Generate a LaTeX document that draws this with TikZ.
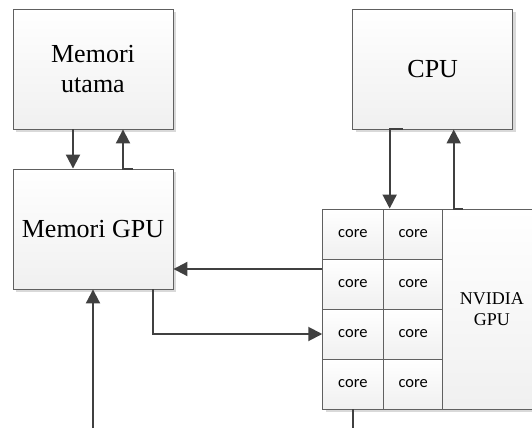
\documentclass[tikz,border=0pt]{standalone}
\usepackage{fontspec}
\setmainfont{Liberation Serif}
\newfontfamily\corefont{Carlito}
\usetikzlibrary{arrows.meta,shadows}

\tikzset{
  blok/.style={draw=gray!75!black, line width=0.9pt, top color=white, bottom color=gray!12,
    drop shadow={shadow xshift=3pt, shadow yshift=-3pt, fill=gray!30, opacity=1},
    minimum width=160pt, minimum height=120pt, inner sep=0pt, align=center,
    font=\fontsize{26}{30}\selectfont},
  inti/.style={draw=gray!75!black, line width=0.9pt, top color=white, bottom color=gray!12,
    minimum width=60.3pt, minimum height=50pt, inner sep=0pt,
    font=\corefont\fontsize{16.5}{18}\selectfont},
  jalur/.style={draw=black!75, line width=2pt},
  panah/.style={jalur, -{Triangle[length=14pt,width=14pt]}}
}

\begin{document}
\begin{tikzpicture}[x=1pt, y=-1pt]
    \useasboundingbox (0,0) rectangle (532,428);

    \node[blok] (mem) at (93, 69) {Memori\\utama};
    \node[blok] (gmem) at (93, 229) {Memori GPU};
    \node[blok] (cpu) at (432.7, 69) {CPU};

    % GPU: shadow first, then 4x2 cores and the big block
    \fill[gray!30] (325.7, 212) rectangle (545, 412);
    \foreach \r in {1,...,4} \foreach \c in {1,2}
        \node[inti] (c-\r-\c) at ({322.7 + 60.3*\c - 30.15}, {184 + 50*\r}) {core};
    \node[inti, minimum width=98.3pt, minimum height=200pt, font=\fontsize{18}{21}\selectfont, align=center]
        (gpu) at (491.85, 309) {NVIDIA\\GPU};

    \draw[panah] ([xshift=-20pt]mem.south) -- ([xshift=-20pt]gmem.north);
    \draw[panah] ([xshift=40pt]gmem.north) -| ([xshift=30pt]mem.south);
    \draw[panah] ([xshift=-30pt]cpu.south) -| ([xshift=-23.5pt]c-1-2.north);
    \draw[panah] ([xshift=-29pt]gpu.north) -| ([xshift=21pt]cpu.south);

    \coordinate (balik) at ([yshift=15pt]c-2-1.west);
    \draw[panah] (balik) -- (balik -| gmem.east);
    \draw[panah] ([xshift=59.7pt]gmem.south) |- (c-3-1.west);

    \draw[panah] (gmem.south |- 0,428) -- (gmem.south);
    \draw[jalur] (c-4-1.south) -- (c-4-1.south |- 0,428);
\end{tikzpicture}
\end{document}
